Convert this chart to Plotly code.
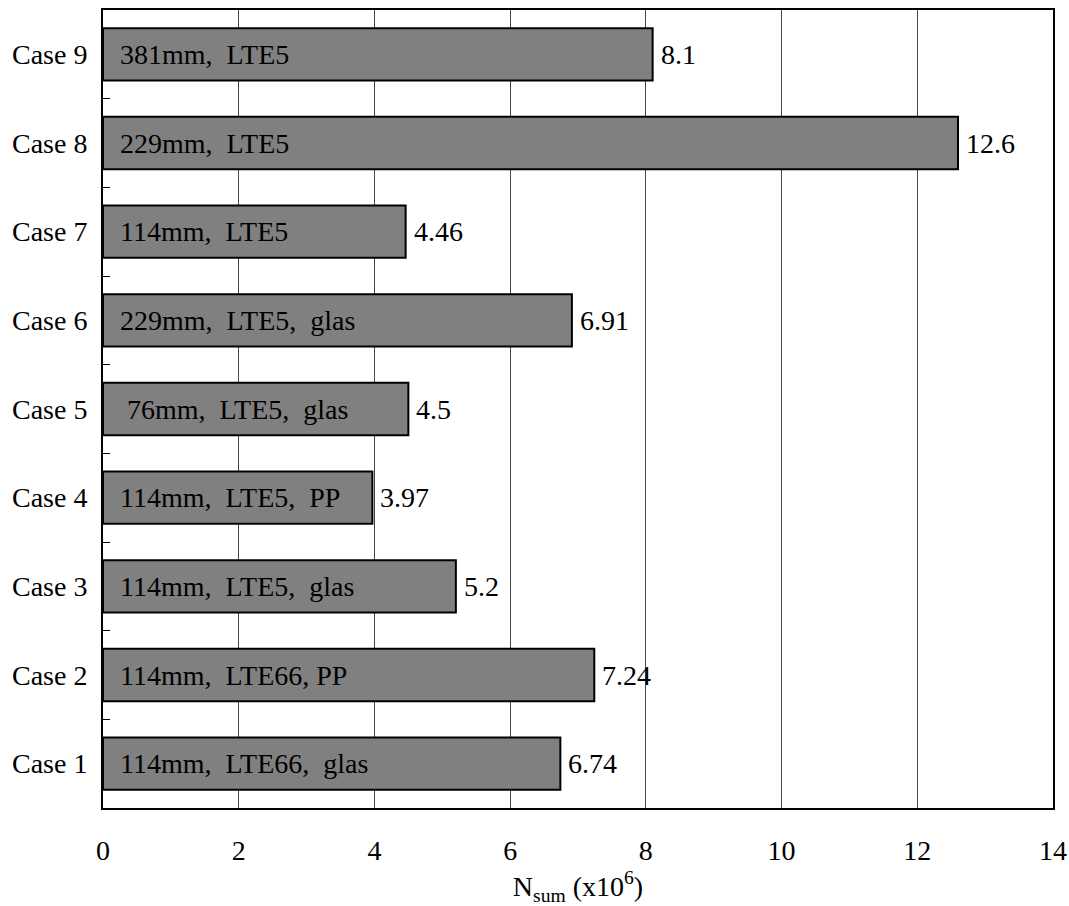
import plotly.graph_objects as go

cases = ["Case 1", "Case 2", "Case 3", "Case 4", "Case 5", "Case 6", "Case 7", "Case 8", "Case 9"]
values = [6.74, 7.24, 5.2, 3.97, 4.5, 6.91, 4.46, 12.6, 8.1]
value_labels = ["6.74", "7.24", "5.2", "3.97", "4.5", "6.91", "4.46", "12.6", "8.1"]
bar_labels = ["114mm,  LTE66,  glas", "114mm,  LTE66, PP", "114mm,  LTE5,  glas",
              "114mm,  LTE5,  PP", " 76mm,  LTE5,  glas", "229mm,  LTE5,  glas",
              "114mm,  LTE5", "229mm,  LTE5", "381mm,  LTE5"]
x_ticks = [0, 2, 4, 6, 8, 10, 12, 14]

FONT = "Liberation Serif, Times New Roman, serif"
FS = 28

fig = go.Figure()
fig.add_trace(go.Bar(
    x=values, y=cases, orientation="h",
    marker=dict(color="#808080", line=dict(color="black", width=2)),
    width=0.59,
    hoverinfo="skip",
))

for c, lab, v, vl in zip(cases, bar_labels, values, value_labels):
    fig.add_annotation(x=0, y=c, text=lab.replace(" ", "&nbsp;"), xanchor="left", yanchor="middle",
                       xshift=15, showarrow=False,
                       font=dict(family=FONT, size=FS, color="black"))
    fig.add_annotation(x=v, y=c, text=vl, xanchor="left", yanchor="middle",
                       xshift=6, showarrow=False,
                       font=dict(family=FONT, size=FS, color="black"))

fig.update_layout(
    width=1069, height=906,
    margin=dict(l=103, r=16, t=10, b=98),
    plot_bgcolor="white", paper_bgcolor="white",
    showlegend=False,
    font=dict(family=FONT, size=FS, color="black"),
    xaxis=dict(
        range=[0, 14], tickvals=x_ticks, ticktext=[str(v) for v in x_ticks],
        showgrid=True, gridcolor="#444444", gridwidth=1,
        zeroline=False, automargin=False,
        showline=True, linecolor="black", linewidth=2, mirror=True,
        ticks="", ticklabelstandoff=16,
        tickfont=dict(family=FONT, size=FS),
        title=dict(text="N<sub>sum</sub> (x10<sup>6</sup>)", font=dict(family=FONT, size=FS), standoff=12),
    ),
    yaxis=dict(
        type="category", categoryorder="array", categoryarray=cases,
        range=[-0.5, 8.5], automargin=False,
        showgrid=False, zeroline=False,
        showline=True, linecolor="black", linewidth=2, mirror=True,
        ticks="inside", tickson="boundaries", ticklen=7, tickcolor="black", tickwidth=1,
        ticklabelstandoff=8,
        tickfont=dict(family=FONT, size=FS),
    ),
)

fig.write_html("out.html", config={"displayModeBar": False},
               post_script="document.body.style.margin='0';document.body.style.overflow='hidden';")
